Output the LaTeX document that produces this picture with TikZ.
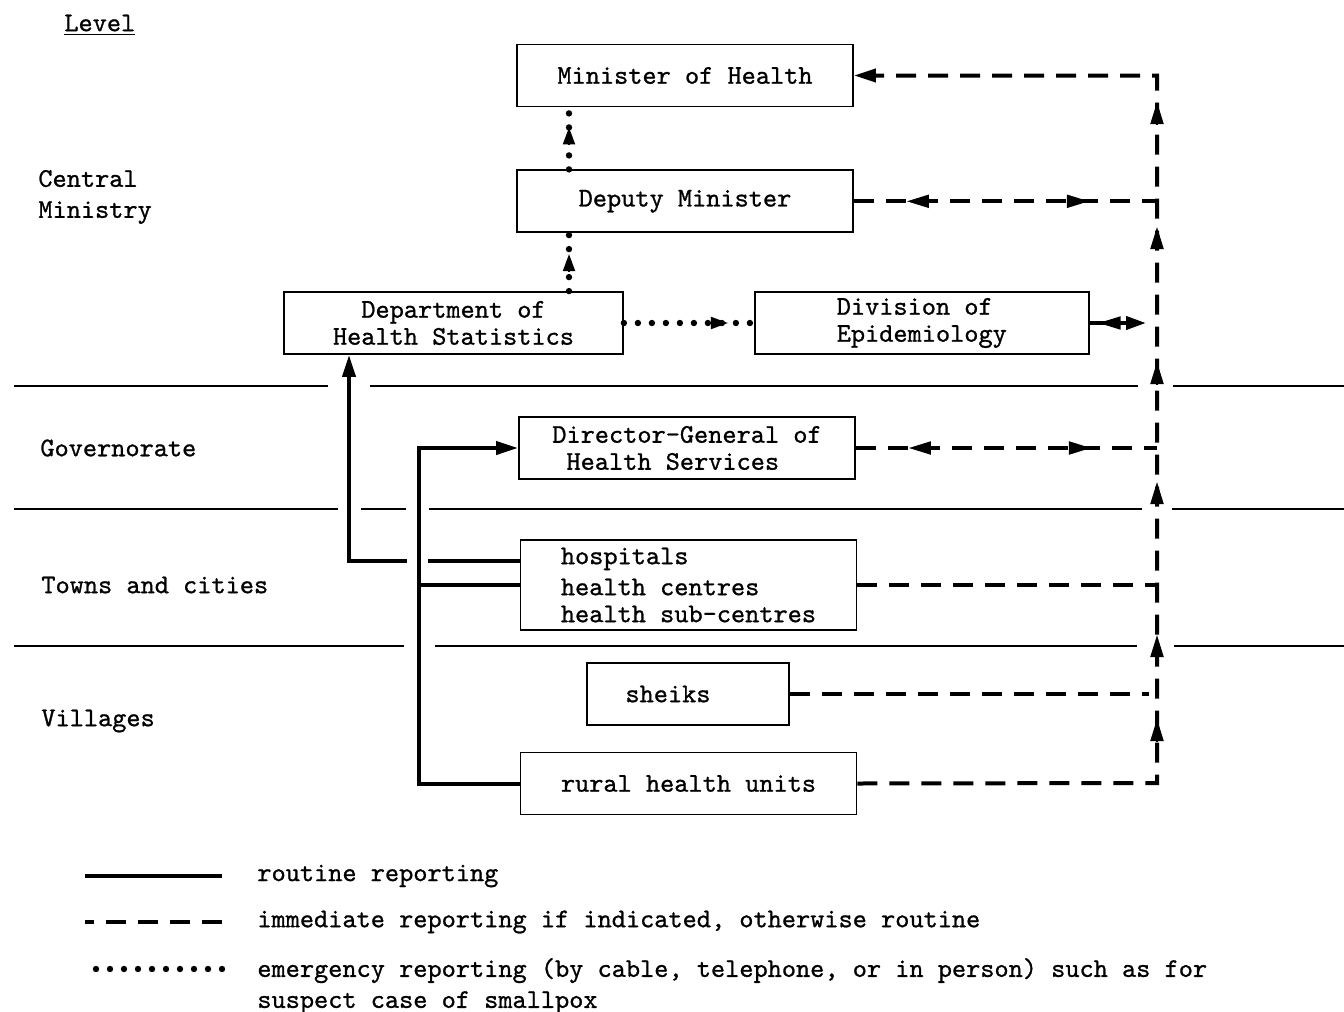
\documentclass[tikz,border=0pt]{standalone}
\usepackage{fontspec}
\usepackage{tikz}
\usetikzlibrary{arrows.meta, positioning}
\newfontfamily\typefont{lmmono10-regular.otf}[FakeBold=0.9]
\newcommand{\typed}{\typefont\fontsize{13.5}{13.5}\selectfont}

\begin{document}
\begin{tikzpicture}[x=0.5pt, y=-0.5pt, node distance=31pt, every node/.style={inner sep=0pt, font=\typed}]
    \tikzset{block/.style={draw, line width=0.9pt, minimum width=168pt, minimum height=31pt, align=center},
      level/.style={line width=0.8pt},
      routine/.style={line width=2pt},
      immediate/.style={line width=2pt, dash pattern=on 10pt off 6pt},
      emergency/.style={line width=3.2pt, line cap=round, dash pattern=on 0pt off 7pt},
      tip/.style={line width=1pt, -{Triangle[length=11pt, width=6.5pt]}},
      etip/.style={line width=1pt, -{Triangle[length=8.5pt, width=6pt]}}}
    \useasboundingbox (0,0) rectangle (1344,1012);
    \node[block] (moh) at (685,75.5) {Minister of Health};
    \node[block, below=of moh] (dm) {Deputy Minister};
    \node[block, minimum width=169.5pt] (dhs) at (453.5,323) {Department of\\Health Statistics};
    \node[block, minimum width=167pt, right=65pt of dhs, align=left] (de) {Division of\\Epidemiology};
    \node[block, align=left] (dg) at (687,448) {Director-General of\\~Health Services};
    \node[block, minimum height=45pt, align=left] (hosp) at (688.5,585) {hospitals\\[2pt]health centres\\health sub-centres};
    \node[block, minimum width=101pt] (sheiks) at (688,694) {sheiks\hspace*{20pt}};
    \node[block] (rural) at (688.5,783.5) {rural health units};
    \node[anchor=west] (lvl) at (64,25) {\underline{Level}};
    \node[anchor=west, align=left] (cm) at (38,197) {Central\\[2pt]Ministry};
    \node[anchor=west] (gov) at (40,448) {Governorate};
    \node[anchor=west] (tc) at (41,585) {Towns and cities};
    \node[anchor=west] (vil) at (41,721) {Villages};
    \draw[level] (14,386) -- (328,386) (370,386) -- (1138,386) (1173,386) -- (1344,386);
    \draw[level] (14,509) -- (338,509) (361,509) -- (406,509) (429,509) -- (1142,509) (1172,509) -- (1344,509);
    \draw[level] (14,646) -- (404,646) (435,646) -- (1137,646) (1174,646) -- (1344,646);
    \coordinate (trunk) at (419,0);
    \coordinate (stat) at (349,561);
    \coordinate (top) at (1157,75.5);
    \coordinate (bot) at (1157,783);
    \coordinate (em) at (569,0);
    \draw[routine, -{Triangle[length=11pt, width=6.5pt]}] (rural.west) -- (rural.west -| trunk) |- (dg.west);
    \draw[routine] (hosp.west) -- (hosp.west -| trunk);
    \draw[routine] ([yshift=12pt]hosp.west) -- ++(-46pt,0);
    \draw[routine, -{Triangle[length=11pt, width=6.5pt]}] ([xshift=29pt]stat) -- (stat) -- (stat |- dhs.south);
    \draw[immediate, -{Triangle[length=11pt, width=6.5pt]}] (rural.east) -- (bot) -- (top) -- (moh.east);
    \draw[immediate] (dm.east) -- (dm.east -| top);
    \draw[immediate] (dg.east) -- (dg.east -| top);
    \draw[immediate] (hosp.east) -- (hosp.east -| top);
    \draw[immediate] (sheiks.east) -- ([xshift=-4pt]sheiks.east -| top);
    \draw[routine, -{Triangle[length=10pt, width=6.5pt]}, shorten >=5.5pt] (de.east) -- (de.east -| top);
    \draw[tip] ([xshift=15.5pt]de.east) -- ++(-11pt,0);
    \draw[tip] ([xshift=37.5pt]dm.east) -- ++(-11pt,0);
    \draw[tip] ([xshift=106.5pt]dm.east) -- ++(11pt,0);
    \draw[tip] ([xshift=37.5pt]dg.east) -- ++(-11pt,0);
    \draw[tip] ([xshift=106.5pt]dg.east) -- ++(11pt,0);
    \draw[tip] ([yshift=-24.25pt]top) -- ++(0,11pt);
    \draw[tip] ([yshift=-86.75pt]top) -- ++(0,11pt);
    \draw[tip] ([yshift=-154.25pt]top) -- ++(0,11pt);
    \draw[tip] ([yshift=-214.25pt]top) -- ++(0,11pt);
    \draw[tip] ([yshift=-290.75pt]top) -- ++(0,11pt);
    \draw[tip] ([yshift=-332.75pt]top) -- ++(0,11pt);
    \draw[emergency] (dhs.north -| em) -- (dm.south -| em);
    \draw[emergency] (dm.north -| em) -- (moh.south -| em);
    \draw[emergency] (dhs.east) -- (dhs.east -| de.west);
    \draw[etip] (dhs.north -| em) ++(0,10pt) -- ++(0,8.5pt);
    \draw[etip] (dm.north -| em) ++(0,12.5pt) -- ++(0,8.5pt);
    \draw[etip] ([xshift=43.5pt]dhs.east) -- ++(8.5pt,0);
    \node[anchor=west] (lr) at (257,876) {routine reporting};
    \node[anchor=west] (li) at (257,922) {immediate reporting if indicated, otherwise routine};
    \node[anchor=west, align=left] (le) at (257,986) {emergency reporting (by cable, telephone, or in person) such as for\\[2pt]suspect case of smallpox};
    \draw[routine] (lr.west) ++(-35,0) -- ++(-137,0);
    \draw[immediate] (li.west) ++(-35,0) -- ++(-137,0);
    \draw[emergency] (le.west) ++(-35,-17) -- ++(-137,0);
  \end{tikzpicture}
\end{document}
